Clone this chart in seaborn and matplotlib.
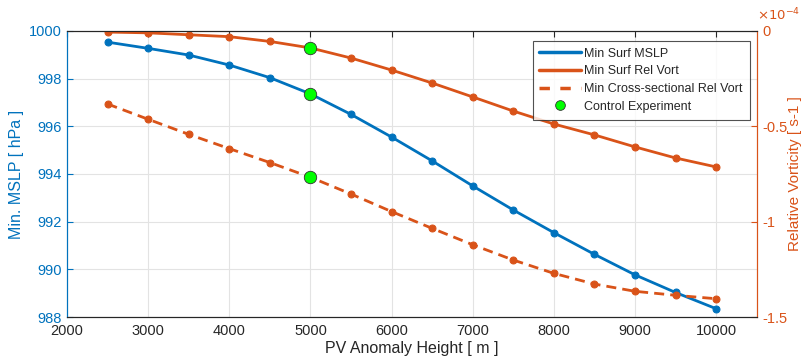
import matplotlib
matplotlib.use("Agg")
import matplotlib.pyplot as plt
from matplotlib.lines import Line2D
import seaborn as sns
import pandas as pd

heights = [2500, 3000, 3500, 4000, 4500, 5000, 5500, 6000, 6500, 7000, 7500, 8000, 8500, 9000, 9500, 10000]
mslp = [999.53, 999.27, 998.99, 998.57, 998.04, 997.36, 996.50, 995.55, 994.55, 993.50, 992.49, 991.54, 990.63, 989.77, 989.03, 988.35]
# relative vorticity in units of 1e-4 s-1
surf_vort = [-0.006, -0.010, -0.020, -0.030, -0.055, -0.089, -0.142, -0.205, -0.273, -0.346, -0.420, -0.488, -0.545, -0.608, -0.666, -0.713]
cross_vort = [-0.383, -0.463, -0.542, -0.617, -0.690, -0.767, -0.855, -0.947, -1.035, -1.121, -1.201, -1.271, -1.327, -1.365, -1.386, -1.404]
control_height = 5000
control_mslp = 997.36
control_vort = [-0.089, -0.767]

blue = "#0072BD"
orange = "#D95319"
green = "#00FF00"

sns.set_style("white")
plt.rcParams['font.family'] = ['Liberation Sans', 'DejaVu Sans']

df = pd.DataFrame({"h": heights, "mslp": mslp, "sv": surf_vort, "cv": cross_vort})

fig = plt.figure(figsize=(8.05, 3.64), dpi=100)
ax = fig.add_axes([0.0832, 0.129, 0.8568, 0.786])
ax2 = ax.twinx()

sns.lineplot(data=df, x="h", y="mslp", ax=ax, color=blue, lw=2, marker="o", ms=5,
             markeredgecolor=blue, legend=False)
sns.lineplot(data=df, x="h", y="sv", ax=ax2, color=orange, lw=2, marker="o", ms=5,
             markeredgecolor=orange, legend=False)
sns.lineplot(data=df, x="h", y="cv", ax=ax2, color=orange, lw=2, marker="o", ms=5,
             markeredgecolor=orange, legend=False)
ax2.lines[-1].set_dashes([3.6, 2.2])

sns.scatterplot(x=[control_height], y=[control_mslp], ax=ax, color=green, s=80,
                edgecolor="#333333", linewidth=0.6, zorder=5, legend=False)
sns.scatterplot(x=[control_height] * 2, y=control_vort, ax=ax2, color=green, s=80,
                edgecolor="#333333", linewidth=0.6, zorder=5, legend=False)

ax.set_xlim(2000, 10500)
ax.set_ylim(988, 1000)
ax2.set_ylim(-1.5, 0)
ax.set_xticks(range(2000, 10001, 1000))
ax.set_yticks(range(988, 1001, 2))
ax2.set_yticks([-1.5, -1, -0.5, 0])
ax2.set_yticklabels(["-1.5", "-1", "-0.5", "0"])

ax.grid(True, color="#E3E3E3", lw=0.8)
ax.set_axisbelow(True)

ax.set_xlabel("PV Anomaly Height [ m ]", fontsize=11.5, color="#262626", labelpad=2)
ax.set_ylabel("Min. MSLP [ hPa ]", fontsize=11.5, color=blue, labelpad=4)
ax2.set_ylabel("Relative Vorticity [ s-1 ]", fontsize=11, color=orange, labelpad=0)

ax.tick_params(axis="x", direction="in", top=True, colors="#262626", labelsize=10.5, length=4, pad=5)
ax.tick_params(axis="y", direction="in", colors=blue, labelsize=10.5, length=4, right=False)
ax2.tick_params(axis="y", direction="in", colors=orange, labelsize=10.5, length=4, pad=4)

for a in (ax, ax2):
    a.spines["top"].set_color("#262626")
    a.spines["bottom"].set_color("#262626")
    a.spines["left"].set_color(blue)
    a.spines["right"].set_color(orange)
    for s in a.spines.values():
        s.set_linewidth(0.8)

ax2.text(1.0, 1.025, r"$\times10^{-4}$", transform=ax2.transAxes, color=orange,
         fontsize=9.5, ha="left", va="bottom")

handles = [
    Line2D([], [], color=blue, lw=2.5),
    Line2D([], [], color=orange, lw=2.5),
    Line2D([], [], color=orange, lw=2.5, dashes=[3, 3]),
    Line2D([], [], color=green, marker="o", ls="none", ms=7, markeredgecolor="#333333", markeredgewidth=0.6),
]
labels = ["Min Surf MSLP", "Min Surf Rel Vort", "Min Cross-sectional Rel Vort", "Control Experiment"]
leg = ax2.legend(handles, labels, loc="upper right", bbox_to_anchor=(0.99, 0.965),
                 fontsize=9, frameon=True, fancybox=False, borderpad=0.55,
                 labelspacing=0.45, handlelength=3.3, handletextpad=0.3, borderaxespad=0)
leg.get_frame().set_edgecolor("#262626")
leg.get_frame().set_linewidth(0.8)

fig.savefig("out.png", dpi=100)
